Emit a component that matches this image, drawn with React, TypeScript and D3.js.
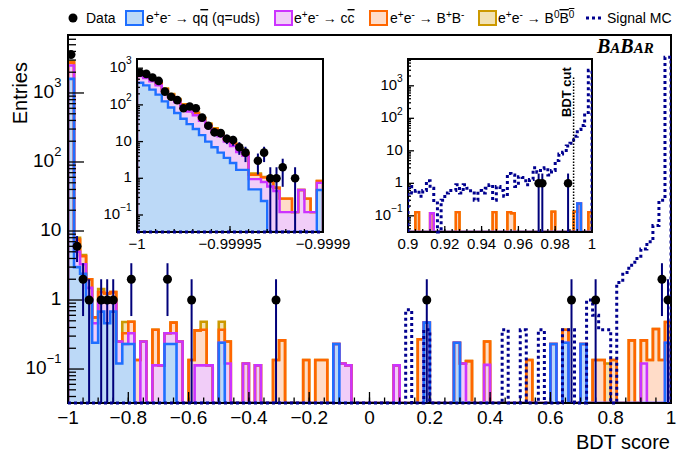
import React from "react";
import * as d3 from "d3";

// ================= DATA =================
// Main plot: 100 bins over [-1, 1]; entries are [bin centre, content]
const mainRange: [number, number] = [-1, 1];
const mainNBins = 100;

const mainQQ: [number, number][] = [
  [-0.99, 1600], [-0.97, 3], [-0.95, 2.4], [-0.93, 1.0], [-0.91, 0.24], [-0.89, 0.68], [-0.87, 0.46],
  [-0.85, 0.68], [-0.83, 0.12], [-0.81, 0.23], [-0.79, 0.23], [-0.67, 0.23], [-0.65, 0.23], [-0.49, 0.24],
  [-0.11, 0.23], [0.19, 0.47], [0.29, 0.24], [0.61, 0.23], [0.65, 0.24], [0.71, 0.23], [0.99, 0.24],
];
const mainCC: [number, number][] = [
  [-0.99, 900], [-0.97, 2], [-0.95, 0.9], [-0.93, 0.5], [-0.91, 0.22], [-0.89, 0.26], [-0.87, 0.48],
  [-0.85, 0.26], [-0.83, 0.13], [-0.79, 0.1], [-0.75, 0.25], [-0.71, 0.113], [-0.69, 0.113], [-0.67, 0.1],
  [-0.65, 0.1], [-0.63, 0.25], [-0.57, 0.113], [-0.55, 0.113], [-0.53, 0.113], [-0.47, 0.12], [-0.41, 0.12],
  [-0.37, 0.113], [-0.09, 0.12], [-0.07, 0.113], [0.09, 0.113], [0.31, 0.12], [0.39, 0.115], [0.91, 0.12],
];
const mainBpBm: [number, number][] = [
  [-0.99, 250], [-0.97, 2.5], [-0.95, 1.0], [-0.93, 0.5], [-0.91, 0.1], [-0.89, 0.36], [-0.87, 0.3],
  [-0.85, 0.36], [-0.81, 0.1], [-0.79, 0.155], [-0.77, 0.135], [-0.71, 0.257], [-0.65, 0.14], [-0.59, 0.135],
  [-0.57, 0.25], [-0.55, 0.257], [-0.49, 0.13], [-0.47, 0.13], [-0.31, 0.135], [-0.29, 0.26], [-0.21, 0.135],
  [-0.17, 0.135], [-0.15, 0.135], [0.17, 0.27], [0.33, 0.13], [0.39, 0.135], [0.53, 0.135], [0.65, 0.13],
  [0.75, 0.135], [0.77, 0.135], [0.81, 0.135], [0.87, 0.26], [0.91, 0.14], [0.93, 0.135], [0.95, 0.38],
  [0.97, 0.135], [0.99, 0.24],
];
const mainB0B0: [number, number][] = [
  [-0.99, 100], [-0.97, 0.5], [-0.95, 0.2], [-0.89, 0.14], [-0.81, 0.15], [-0.55, 0.115], [-0.49, 0.115], [0.79, 0.12],
];
const mainSignal: [number, number][] = [
  [0.13, 0.72], [0.19, 0.37], [0.45, 0.37], [0.51, 0.37], [0.57, 0.37], [0.65, 0.37], [0.67, 0.37],
  [0.73, 1.0], [0.75, 0.6], [0.77, 0.37], [0.79, 0.37], [0.83, 1.8], [0.85, 2.5], [0.87, 3.2], [0.89, 4],
  [0.91, 5.5], [0.93, 7], [0.95, 12], [0.97, 28], [0.99, 3300],
];
const mainData: [number, number][] = [
  [-0.99, 3600], [-0.97, 6], [-0.95, 2], [-0.93, 1], [-0.89, 1], [-0.87, 1], [-0.85, 1], [-0.79, 2],
  [-0.67, 2], [-0.59, 1], [-0.31, 1], [0.19, 1], [0.67, 1], [0.75, 1], [0.97, 2], [0.99, 1],
];

// Left inset: 30 bins over [-1, -0.9999]
const leftRange: [number, number] = [-1, -0.9999];
const leftQQ = [400, 340, 260, 190, 125, 85, 60, 42, 30, 22, 15, 10, 7, 5, 3.6, 2.6, 1.7, 1.7, 0.5, 0.5, 0.24, 0, 0, 0, 0, 0, 0, 0, 0, 0.48];
const leftCC = [210, 200, 180, 150, 110, 80, 60, 45, 36, 30, 22, 16, 12, 9, 6.5, 5, 3.5, 2.4, 0.45, 0.45, 0.55, 0.6, 0.45, 0.12, 0.12, 0.12, 0.48, 0.12, 0.12, 0.27];
const leftBpBm = [70, 65, 55, 43, 32, 25, 18, 13.5, 10, 7.5, 5.5, 4, 3, 2.3, 1.7, 1.3, 0.9, 0.5, 0.3, 0.3, 0.26, 0.2, 0.1, 0.16, 0.16, 0, 0, 0.16, 0, 0.1];
const leftB0B0 = [40, 35, 25, 17, 13, 10, 7, 4.5, 4, 2.5, 1.5, 1, 1, 0.7, 0.7, 0.6, 0.4, 0.2, 0.1, 0.1, 0.04, 0, 0, 0, 0, 0, 0, 0, 0, 0];
const leftSignal = new Array(30).fill(0);
const leftData = [750, 700, 560, 450, 230, 167, 135, 81, 90, 81, 45, 27, 18, 17, 12, 11, 7, 5, 0, 3, 5, 1, 1, 2, 0, 1, 0, 0, 0, 0];

// Right inset: 50 bins over [0.9, 1]; entries [bin centre, content]
const rightRange: [number, number] = [0.9, 1];
const rightNBins = 50;
const rightQQ: [number, number][] = [[0.993, 0.24]];
const rightCC: [number, number][] = [[0.913, 0.12]];
const rightBpBm: [number, number][] = [
  [0.905, 0.13], [0.927, 0.13], [0.947, 0.13], [0.955, 0.13], [0.957, 0.12], [0.979, 0.135], [0.991, 0.135], [0.999, 0.13],
];
const rightB0B0: [number, number][] = [];
const rightSignal = [
  0.8, 0.5, 0.6, 0.4, 0.6, 1.2, 0.7, 0.25, 0, 0.3,
  0.5, 0.6, 0.6, 0.9, 0.5, 0.9, 0.7, 0.5, 0.3, 0.6,
  0.5, 0.7, 0.9, 0.3, 0.8, 0.6, 0.4, 2.0, 1.8, 0.8,
  1.6, 1.5, 0.9, 1.3, 3.0, 2.2, 2.8, 3.0, 1.8, 2.5,
  5, 8, 9, 14, 17, 28, 45, 60, 150, 3000,
];
const rightData: [number, number][] = [[0.971, 1], [0.973, 1], [0.987, 1]];
const bdtCut = 0.99;

// Axis ticks / labels
const mainXTicks = [-1, -0.8, -0.6, -0.4, -0.2, 0, 0.2, 0.4, 0.6, 0.8, 1];
const mainXLabels = ["\u22121", "\u22120.8", "\u22120.6", "\u22120.4", "\u22120.2", "0", "0.2", "0.4", "0.6", "0.8", "1"];
const leftXTicks = [-1, -0.99995, -0.9999];
const leftXLabels = ["\u22121", "\u22120.99995", "\u22120.9999"];
const rightXTicks = [0.9, 0.92, 0.94, 0.96, 0.98, 1];
const rightXLabels = ["0.9", "0.92", "0.94", "0.96", "0.98", "1"];
const yTickLabels: [number, string, string][] = [
  [0.1, "10", "\u22121"], [1, "1", ""], [10, "10", ""], [100, "10", "2"], [1000, "10", "3"],
];

// Colours
const C = {
  qq: { stroke: "#1f6fff", fill: "#bcd9f7" },
  cc: { stroke: "#cc33ff", fill: "#f1cdf8" },
  bp: { stroke: "#ff6600", fill: "#ffdcc8" },
  b0: { stroke: "#cc9900", fill: "#f2e2b4" },
  sig: "#00008f",
  err: "#00007a",
};

// ================= HELPERS =================
function dense(pairs: [number, number][], range: [number, number], n: number) {
  const a = new Array(n).fill(0);
  const w = (range[1] - range[0]) / n;
  for (const [c, v] of pairs) {
    const i = Math.round((c - range[0]) / w - 0.5);
    if (i >= 0 && i < n) a[i] += v;
  }
  return a;
}

type Rect = { x0: number; x1: number; y0: number; y1: number };

function stepPath(vals: number[], x: any, y: any, lo: number, hi: number, yb: number, close = false) {
  const n = vals.length;
  const w = (hi - lo) / n;
  const yy = (v: number) => (v > 0 ? Math.min(yb, y(v)) : yb);
  let p = `M${x(lo)},${yb}`;
  for (let i = 0; i < n; i++) {
    const yv = yy(vals[i]);
    p += `L${x(lo + i * w)},${yv}L${x(lo + (i + 1) * w)},${yv}`;
  }
  p += `L${x(hi)},${yb}`;
  if (close) p += "Z";
  return p;
}

function YLabel({ x, y, base, exp, fs }: { x: number; y: number; base: string; exp: string; fs: number }) {
  return (
    <text x={x} y={y} textAnchor="end" fontSize={fs} fontFamily="Liberation Sans, Arial, sans-serif" dominantBaseline="middle">
      {base}
      {exp && (
        <tspan dy={-fs * 0.45} fontSize={fs * 0.68}>
          {exp}
        </tspan>
      )}
    </text>
  );
}

type PanelProps = {
  id: string;
  r: Rect;
  xr: [number, number];
  yd: [number, number];
  qq: number[];
  cc: number[];
  bp: number[];
  b0: number[];
  sig: number[];
  data: number[];
  xTicks: number[];
  xLabels: string[];
  xMinorStep: number;
  fs: number;
  xMajLen: number;
  xMinLen: number;
  yMajLen: number;
  yMinLen: number;
  labelDy: number;
  white?: boolean;
  frameW: number;
  lw: number;
  dotR: number;
};

function Panel(p: PanelProps) {
  const { r } = p;
  const x = d3.scaleLinear().domain(p.xr).range([r.x0, r.x1]);
  const y = d3.scaleLog().domain(p.yd).range([r.y1, r.y0]);
  const n = p.qq.length;
  const cum1 = p.qq;
  const cum2 = p.qq.map((v, i) => v + p.cc[i]);
  const cum3 = cum2.map((v, i) => v + p.bp[i]);
  const cum4 = cum3.map((v, i) => v + p.b0[i]);
  const layers = [
    { vals: cum4, fill: C.b0.fill, stroke: C.b0.stroke },
    { vals: cum3, fill: C.bp.fill, stroke: C.bp.stroke },
    { vals: cum2, fill: C.cc.fill, stroke: C.cc.stroke },
    { vals: cum1, fill: C.qq.fill, stroke: C.qq.stroke },
  ];
  const lo = p.xr[0], hi = p.xr[1];
  const w = (hi - lo) / n;
  const yb = r.y1;

  const lg0 = Math.floor(Math.log10(p.yd[0]));
  const lg1 = Math.ceil(Math.log10(p.yd[1]));
  const yMinor: number[] = [];
  for (let d = lg0; d <= lg1; d++) for (let m = 2; m <= 9; m++) {
    const v = m * Math.pow(10, d);
    if (v >= p.yd[0] && v <= p.yd[1]) yMinor.push(v);
  }
  const yMajor = yTickLabels.filter((t) => t[0] >= p.yd[0] && t[0] <= p.yd[1]);
  const nMinor = Math.round((hi - lo) / p.xMinorStep);
  const xMinor = d3.range(nMinor + 1).map((i) => lo + i * p.xMinorStep);

  return (
    <g>
      <defs>
        <clipPath id={`clip-${p.id}`}>
          <rect x={r.x0} y={r.y0} width={r.x1 - r.x0} height={r.y1 - r.y0} />
        </clipPath>
        <clipPath id={`clipb-${p.id}`}>
          <rect x={r.x0} y={r.y0} width={r.x1 - r.x0} height={r.y1 - r.y0 + 3} />
        </clipPath>
      </defs>
      {p.white && <rect x={r.x0} y={r.y0} width={r.x1 - r.x0} height={r.y1 - r.y0} fill="white" />}
      <g clipPath={`url(#clip-${p.id})`}>
        {layers.map((L, i) => (
          <path key={"a" + i} d={stepPath(L.vals, x, y, lo, hi, yb, true)} fill={L.fill} stroke="none" />
        ))}
        {layers.map((L, i) => (
          <path key={"l" + i} d={stepPath(L.vals, x, y, lo, hi, yb)} fill="none" stroke={L.stroke} strokeWidth={p.lw} strokeLinejoin="miter" />
        ))}
      </g>
      <rect x={r.x0} y={r.y0} width={r.x1 - r.x0} height={r.y1 - r.y0} fill="none" stroke="black" strokeWidth={p.frameW} />
      {xMinor.map((v, i) => (
        <line key={"xm" + i} x1={x(v)} x2={x(v)} y1={yb} y2={yb - p.xMinLen} stroke="black" strokeWidth={1.3} />
      ))}
      {p.xTicks.map((v, i) => (
        <g key={"xM" + i}>
          <line x1={x(v)} x2={x(v)} y1={yb} y2={yb - p.xMajLen} stroke="black" strokeWidth={1.3} />
          <text x={x(v)} y={yb + p.labelDy} textAnchor="middle" fontSize={p.fs} fontFamily="Liberation Sans, Arial, sans-serif">
            {p.xLabels[i]}
          </text>
        </g>
      ))}
      {yMinor.map((v, i) => (
        <line key={"ym" + i} x1={r.x0} x2={r.x0 + p.yMinLen} y1={y(v)} y2={y(v)} stroke="black" strokeWidth={1.3} />
      ))}
      {yMajor.map((t, i) => (
        <g key={"yM" + i}>
          <line x1={r.x0} x2={r.x0 + p.yMajLen} y1={y(t[0])} y2={y(t[0])} stroke="black" strokeWidth={1.3} />
          <YLabel x={r.x0 - p.fs * 0.35} y={y(t[0])} base={t[1]} exp={t[2]} fs={p.fs} />
        </g>
      ))}
      <g clipPath={`url(#clipb-${p.id})`}>
        <path d={stepPath(p.sig, x, y, lo, hi, yb)} fill="none" stroke={C.sig} strokeWidth={3} strokeDasharray="3 3" />
      </g>
      <g clipPath={`url(#clipb-${p.id})`}>
        {p.data.map((v, i) => {
          if (v <= 0) return null;
          const cx = x(lo + (i + 0.5) * w);
          const s = Math.sqrt(v);
          const yHi = y(v + s);
          const yLo = v - s > p.yd[0] ? y(v - s) : yb;
          return (
            <g key={"d" + i}>
              <line x1={cx} x2={cx} y1={yHi} y2={yLo} stroke={C.err} strokeWidth={2} />
              <circle cx={cx} cy={y(v)} r={p.dotR} fill="black" />
            </g>
          );
        })}
      </g>
    </g>
  );
}

export default function App() {
  const fam = "Liberation Sans, Arial, sans-serif";
  const main: Rect = { x0: 68, x1: 671, y0: 35, y1: 403 };
  const left: Rect = { x0: 137, x1: 323, y0: 59, y1: 232 };
  const right: Rect = { x0: 408, x1: 592, y0: 59, y1: 232 };
  const xRight = d3.scaleLinear().domain(rightRange).range([right.x0, right.x1]);

  const lfs = 14;
  const sup = (s: string, key: string) => (
    <tspan key={key} dy={-5} fontSize={10}>{s}</tspan>
  );
  const ee = (k: string) => [
    <tspan key={k + "e1"}>e</tspan>,
    sup("+", k + "p"),
    <tspan key={k + "e2"} dy={5}>e</tspan>,
    sup("-", k + "m"),
    <tspan key={k + "ar"} dy={5}>{" \u2192 "}</tspan>,
  ];
  const legendY = 18;

  return (
    <svg width={690} height={454} style={{ position: "absolute", left: 0, top: 0, background: "white" }}>
      <rect x={0} y={0} width={690} height={454} fill="white" />

      <Panel
        id="main" r={main} xr={mainRange} yd={[0.0322, 6920]}
        qq={dense(mainQQ, mainRange, mainNBins)} cc={dense(mainCC, mainRange, mainNBins)}
        bp={dense(mainBpBm, mainRange, mainNBins)} b0={dense(mainB0B0, mainRange, mainNBins)}
        sig={dense(mainSignal, mainRange, mainNBins)} data={dense(mainData, mainRange, mainNBins)}
        xTicks={mainXTicks} xLabels={mainXLabels} xMinorStep={0.05} fs={19}
        xMajLen={11} xMinLen={5.5} yMajLen={16} yMinLen={8} labelDy={21} frameW={2} lw={2.6} dotR={4.5}
      />
      <Panel
        id="left" r={left} xr={leftRange} yd={[0.0344, 1780]}
        qq={leftQQ} cc={leftCC} bp={leftBpBm} b0={leftB0B0} sig={leftSignal} data={leftData}
        xTicks={leftXTicks} xLabels={leftXLabels} xMinorStep={0.00001} fs={15}
        xMajLen={6} xMinLen={3} yMajLen={6} yMinLen={3} labelDy={17} white frameW={2} lw={2.4} dotR={4.3}
      />
      <Panel
        id="right" r={right} xr={rightRange} yd={[0.0318, 6680]}
        qq={dense(rightQQ, rightRange, rightNBins)} cc={dense(rightCC, rightRange, rightNBins)}
        bp={dense(rightBpBm, rightRange, rightNBins)} b0={dense(rightB0B0, rightRange, rightNBins)}
        sig={rightSignal} data={dense(rightData, rightRange, rightNBins)}
        xTicks={rightXTicks} xLabels={rightXLabels} xMinorStep={0.004} fs={15}
        xMajLen={6} xMinLen={3} yMajLen={6} yMinLen={3} labelDy={17} white frameW={2} lw={2.4} dotR={4.3}
      />
      <line x1={xRight(bdtCut)} x2={xRight(bdtCut)} y1={right.y1} y2={77} stroke="black" strokeWidth={1.5} strokeDasharray="1.5 1.5" />
      <text transform={`translate(${xRight(bdtCut) - 3},117) rotate(-90)`} fontSize={13} fontWeight="bold" fontFamily={fam}>
        BDT cut
      </text>

      <text x={670} y={449} textAnchor="end" fontSize={20} fontFamily={fam}>BDT score</text>
      <text transform="translate(27,62) rotate(-90)" textAnchor="end" fontSize={20} fontFamily={fam}>Entries</text>

      <text x={597} y={53} fontFamily="Liberation Serif, Times New Roman, serif" fontWeight="bold" fontStyle="italic" fontSize={20}>
        B<tspan fontSize={15}>A</tspan>B<tspan fontSize={15}>AR</tspan>
      </text>

      <g fontFamily={fam} fontSize={lfs}>
        <circle cx={73} cy={legendY} r={4.5} fill="black" />
        <text x={86} y={legendY + 5}>Data</text>

        <rect x={126} y={legendY - 7} width={17} height={14} fill={C.qq.fill} stroke={C.qq.stroke} strokeWidth={2} />
        <text x={146} y={legendY + 5}>
          {ee("a")}
          <tspan>q</tspan>
          <tspan style={{ textDecoration: "overline" }}>q</tspan>
          <tspan>{" (q=uds)"}</tspan>
        </text>

        <rect x={275} y={legendY - 7} width={17} height={14} fill={C.cc.fill} stroke={C.cc.stroke} strokeWidth={2} />
        <text x={294} y={legendY + 5}>
          {ee("b")}
          <tspan>c</tspan>
          <tspan style={{ textDecoration: "overline" }}>c</tspan>
        </text>

        <rect x={370} y={legendY - 7} width={17} height={14} fill={C.bp.fill} stroke={C.bp.stroke} strokeWidth={2} />
        <text x={390} y={legendY + 5}>
          {ee("c")}
          <tspan>B</tspan>
          <tspan dy={-5} fontSize={10}>+</tspan>
          <tspan dy={5}>B</tspan>
          <tspan dy={-5} fontSize={10}>-</tspan>
        </text>

        <rect x={479} y={legendY - 7} width={17} height={14} fill={C.b0.fill} stroke={C.b0.stroke} strokeWidth={2} />
        <text x={498} y={legendY + 5}>
          {ee("d")}
          <tspan>B</tspan>
          <tspan dy={-5} fontSize={10}>0</tspan>
          <tspan dy={5} style={{ textDecoration: "overline" }}>B</tspan>
          <tspan dy={-5} fontSize={10} style={{ textDecoration: "overline" }}>0</tspan>
        </text>

        <line x1={586} x2={604} y1={legendY} y2={legendY} stroke={C.sig} strokeWidth={3} strokeDasharray="3 3" />
        <text x={607} y={legendY + 5}>Signal MC</text>
      </g>
    </svg>
  );
}
